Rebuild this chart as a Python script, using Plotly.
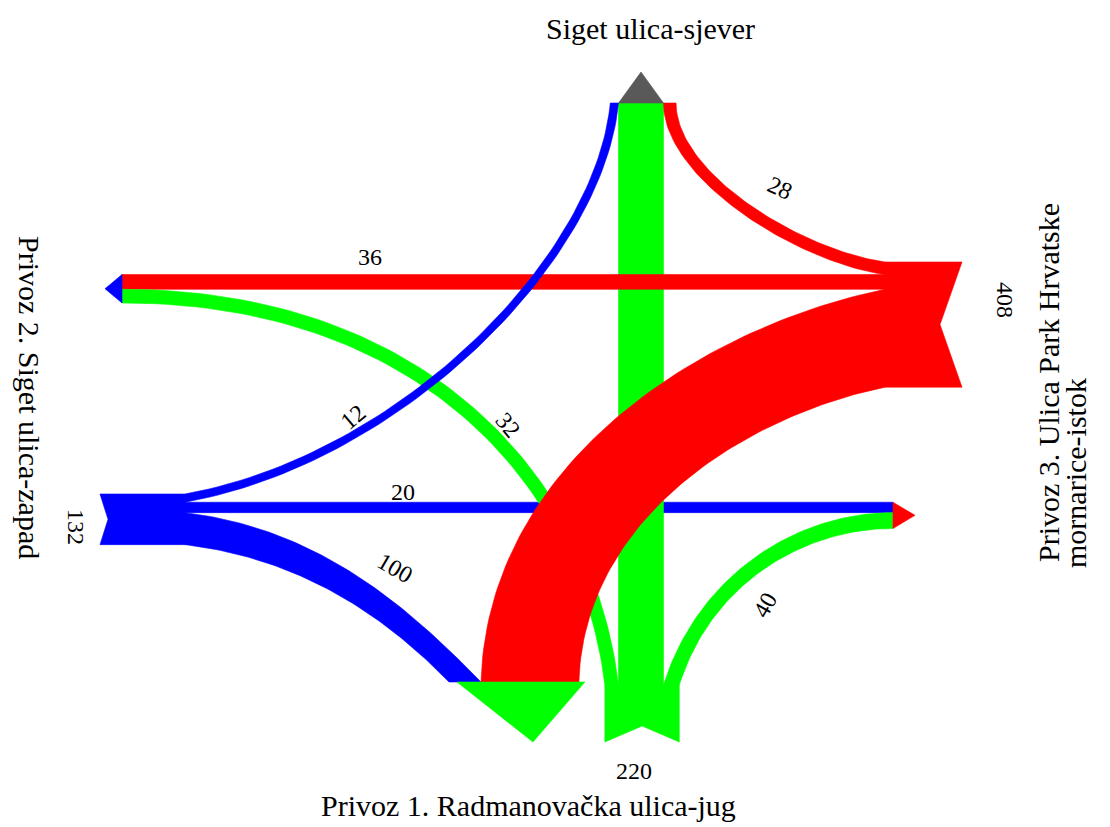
import numpy as np
import plotly.graph_objects as go

# ---------------- data ----------------
# arms: N = Siget ulica-sjever, S = Privoz 1, W = Privoz 2, E = Privoz 3
flow_from = ["E", "E", "E", "W", "W", "W", "S", "S", "S"]
flow_to = ["N", "W", "S", "N", "E", "S", "W", "N", "E"]
flow_values = [28, 36, 344, 12, 20, 100, 32, 148, 40]
flow_labels = ["28", "36", "", "12", "20", "100", "32", "", "40"]
origin_arms = ["E", "W", "S"]
origin_totals = [408, 132, 220]
arm_titles = {
    "N": "Siget ulica-sjever",
    "S": "Privoz 1. Radmanovačka ulica-jug",
    "W": "Privoz 2. Siget ulica-zapad",
    "E1": "Privoz 3. Ulica Park Hrvatske",
    "E2": "mornarice-istok",
}

COL = {"E": "#FF0000", "W": "#0000FF", "S": "#00FF00", "N": "#595959"}


def w(v):  # band width scale (px per vehicle)
    return 5 + 0.27 * v


# ---------------- layout of faces ----------------
axis_x = 641.0  # north-south straight axis
stack_order = {
    ("from", "E"): [0, 1, 2], ("from", "W"): [3, 4, 5], ("from", "S"): [6, 7, 8],
    ("to", "N"): [3, 7, 0], ("to", "W"): [1, 6], ("to", "E"): [4, 8], ("to", "S"): [5, 2],
}
E_top, W_top = 262.0, 494.0
faces = {
    ("from", "E"): ("v", 885.0, E_top),
    ("from", "W"): ("v", 185.0, W_top),
    ("from", "S"): ("h", 685.0, axis_x - w(flow_values[6]) - w(flow_values[7]) / 2),
    ("to", "N"): ("h", 103.0, axis_x - w(flow_values[3]) - w(flow_values[7]) / 2),
    ("to", "W"): ("v", 122.0, E_top + w(flow_values[0])),
    ("to", "E"): ("v", 893.0, W_top + w(flow_values[3])),
    ("to", "S"): ("h", 682.0, 481.0 - w(flow_values[5])),
}

seg = {}
for key, order in stack_order.items():
    orient, pos, start = faces[key]
    c = start
    for i in order:
        wi = w(flow_values[i])
        if orient == "v":
            seg[(key[0], i)] = (np.array([pos, c]), np.array([pos, c + wi]))
        else:
            seg[(key[0], i)] = (np.array([c, pos]), np.array([c + wi, pos]))
        c += wi

# per-flow shape: start dir, end dir, tensions, edge pairing (a->a or a->b)
shape = [
    ((-0.99, -0.14), (0, -1), (0.32, 0.27), True),
    ((-1, 0), (-1, 0), (0.3, 0.3), False),
    ((-0.975, 0.2), (-0.03, 1), (0.33, 0.39), False),
    ((0.984, -0.177), (0.095, -0.995), (0.375, 0.27), False),
    ((1, 0), (1, 0), (0.3, 0.3), False),
    ((1, 0.12), (0.697, 0.717), (0.4, 0.3), True),
    ((-0.12, -0.99), (-1, 0), (0.33, 0.48), True),
    ((0, -1), (0, -1), (0.3, 0.3), False),
    ((0.3, -0.954), (1, 0), (0.4, 0.34), False),
]


def bez(p0, d0, p3, d3, t1, t2, n=80):
    d0 = np.array(d0, float); d0 /= np.linalg.norm(d0)
    d3 = np.array(d3, float); d3 /= np.linalg.norm(d3)
    L = np.linalg.norm(p3 - p0)
    p1 = p0 + d0 * L * t1
    p2 = p3 - d3 * L * t2
    t = np.linspace(0, 1, n)[:, None]
    return ((1 - t) ** 3) * p0 + 3 * ((1 - t) ** 2) * t * p1 + 3 * (1 - t) * t ** 2 * p2 + t ** 3 * p3


fig = go.Figure()


def poly(pts, color):
    pts = np.vstack([pts, pts[:1]])
    fig.add_trace(go.Scatter(x=pts[:, 0], y=pts[:, 1], mode="lines", fill="toself",
                             fillcolor=color, line=dict(color=color, width=0.6),
                             hoverinfo="skip", showlegend=False))


draw_order = [4, 7, 1, 6, 3, 5, 0, 2, 8]
for i in draw_order:
    sa, sb = seg[("from", i)]
    ea, eb = seg[("to", i)]
    ds, de, (t1, t2), swap = shape[i]
    if swap:
        ea, eb = eb, ea
    edge1 = bez(sa, ds, ea, de, t1, t2)
    edge2 = bez(sb, ds, eb, de, t1, t2)
    poly(np.vstack([edge1, edge2[::-1]]), COL[flow_from[i]])

# origin blocks (swallowtails)
for arm in origin_arms:
    orient, pos, start = faces[("from", arm)]
    ids = stack_order[("from", arm)]
    total = sum(w(flow_values[i]) for i in ids)
    a, b = start, start + total
    mid = (a + b) / 2
    if arm == "E":
        pts = [(pos, a), (962, a), (940, mid), (962, b), (pos, b)]
    elif arm == "W":
        pts = [(pos, a), (100, a), (108, mid), (100, b), (pos, b)]
    else:
        pts = [(a, pos), (b, pos), (b, 742), (mid, 726), (a, 742)]
    poly(np.array(pts, float), COL[arm])

# destination arrowheads
for arm in ["N", "W", "E", "S"]:
    orient, pos, start = faces[("to", arm)]
    ids = stack_order[("to", arm)]
    if arm == "N":
        p, q = seg[("to", 7)]
        a, b = p[0], q[0]
        pts = [(a, pos), (b, pos), ((a + b) / 2, 72)]
        col = COL["N"]
    elif arm == "W":
        total = sum(w(flow_values[i]) for i in ids)
        pts = [(pos, start), (pos, start + total), (105, start + total / 2)]
        col = COL["W"]
    elif arm == "E":
        total = sum(w(flow_values[i]) for i in ids)
        pts = [(pos, start), (pos, start + total), (915, start + total / 2)]
        col = COL["E"]
    else:
        total = sum(w(flow_values[i]) for i in ids)
        p, q = seg[("to", 2)]
        pts = [(start + 8, pos), (start + total + 6, pos), ((p[0] + q[0]) / 2 + 3, 742)]
        col = COL["S"]
    poly(np.array(pts, float), col)

# ---------------- text ----------------
FONT = "Liberation Serif"
label_pos = {0: (780, 188, 25), 1: (370, 257, 0), 3: (353, 417, -40), 4: (403, 492, 0),
             5: (395, 568, 30), 6: (508, 425, 50), 8: (765, 605, -60)}
ann = []
for i, (x, y, ang) in label_pos.items():
    ann.append(dict(x=x, y=y, text=flow_labels[i], textangle=ang, showarrow=False,
                    font=dict(family=FONT, size=24, color="black"),
                    xanchor="center", yanchor="middle"))
tot_pos = {"E": (1005, 300, 90), "W": (76, 527, 90), "S": (634, 771, 0)}
for arm, tot in zip(origin_arms, origin_totals):
    assert tot == sum(v for v, f in zip(flow_values, flow_from) if f == arm)
    x, y, ang = tot_pos[arm]
    ann.append(dict(x=x, y=y, text=str(tot), textangle=ang, showarrow=False,
                    font=dict(family=FONT, size=24, color="black"),
                    xanchor="center", yanchor="middle"))
title_pos = {"N": (650, 28, 0), "S": (528, 805, 0), "W": (30, 397, 90),
             "E1": (1048, 383, -90), "E2": (1075, 473, -90)}
for k, (x, y, ang) in title_pos.items():
    ann.append(dict(x=x, y=y, text=arm_titles[k], textangle=ang, showarrow=False,
                    font=dict(family=FONT, size=30, color="black"),
                    xanchor="center", yanchor="middle"))

fig.update_layout(
    width=1110, height=827, autosize=False,
    margin=dict(l=0, r=0, t=0, b=0),
    paper_bgcolor="white", plot_bgcolor="white",
    xaxis=dict(range=[0, 1110], visible=False, fixedrange=True),
    yaxis=dict(range=[827, 0], visible=False, fixedrange=True),
    showlegend=False, annotations=ann,
)
fig.write_html("out.html", config={"displayModeBar": False},
               post_script="document.body.style.margin='0';")
